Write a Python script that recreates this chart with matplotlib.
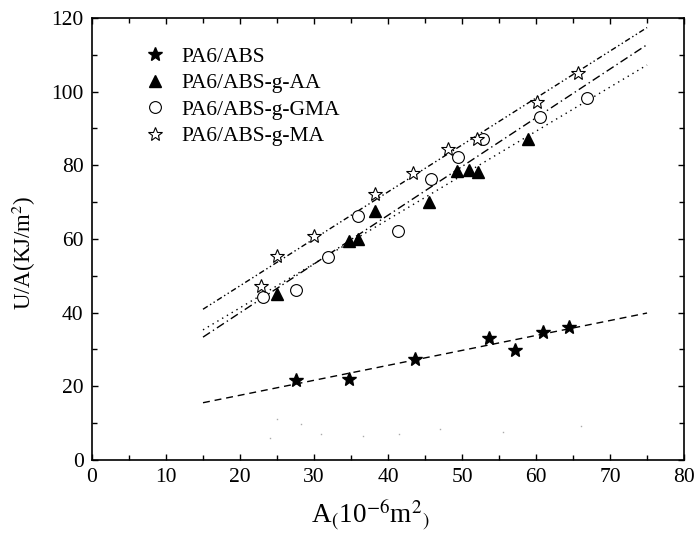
import numpy as np
import matplotlib.pyplot as plt
from matplotlib.ticker import MultipleLocator

plt.rcParams['font.family'] = ['Liberation Serif', 'DejaVu Serif']
plt.rcParams['mathtext.fontset'] = 'stix'

# PA6/ABS (filled stars, dashed fit)
x_abs = [27.5, 34.7, 43.7, 53.7, 57.1, 61.0, 64.5]
y_abs = [21.6, 22.1, 27.4, 33.2, 29.9, 34.7, 36.2]

# PA6/ABS-g-AA (filled triangles, dotted fit)
x_aa = [25.0, 34.7, 36.0, 38.3, 45.6, 49.3, 51.0, 52.1, 58.9]
y_aa = [45.1, 59.4, 60.1, 67.6, 70.0, 78.5, 78.6, 78.1, 87.2]

# PA6/ABS-g-GMA (open circles, dash-dot fit)
x_gma = [23.1, 27.5, 31.9, 36.0, 41.3, 45.8, 49.4, 52.8, 60.5, 66.9]
y_gma = [44.3, 46.2, 55.0, 66.3, 62.3, 76.2, 82.2, 87.2, 93.0, 98.3]

# PA6/ABS-g-MA (open stars, dash-dot-dot fit)
x_ma = [22.9, 25.0, 30.0, 38.3, 43.4, 48.1, 52.0, 60.1, 65.7]
y_ma = [47.2, 55.3, 60.9, 72.3, 77.8, 84.4, 87.2, 97.3, 105.2]

# faint specks near the bottom of the scan
x_specks = [25.0, 28.3, 24.1, 30.9, 36.6, 41.5, 47.0, 55.5, 66.1]
y_specks = [11.2, 9.9, 6.1, 7.0, 6.5, 7.0, 8.3, 7.7, 9.1]

fit_range = [15, 75]

fig = plt.figure(figsize=(6.98, 5.37), dpi=100)
ax = fig.add_axes([0.1318, 0.1434, 0.8482, 0.8231])

def fit_line(x, y, ls):
    z = np.polyfit(x, y, 1)
    p = np.poly1d(z)
    xx = np.array(fit_range)
    ax.plot(xx, p(xx), color='black', lw=1.0, linestyle=ls)

fit_line(x_abs, y_abs, (0, (5, 3.5)))
fit_line(x_aa, y_aa, (0, (1, 3)))
fit_line(x_gma, y_gma, (0, (6, 2.5, 1, 2.5)))
fit_line(x_ma, y_ma, (0, (4, 2, 1, 2, 1, 2)))

ax.plot(x_specks, y_specks, 's', ms=1.0, color='#aaaaaa', mec='none')

ax.plot(x_abs, y_abs, '*', ms=10, color='black', mec='black', lw=0,
        label='PA6/ABS')
ax.plot(x_aa, y_aa, '^', ms=8.5, color='black', mec='black', lw=0,
        label='PA6/ABS-g-AA')
ax.plot(x_gma, y_gma, 'o', ms=8.5, mfc='white', mec='black', mew=0.8, lw=0,
        label='PA6/ABS-g-GMA')
ax.plot(x_ma, y_ma, '*', ms=10.5, mfc='white', mec='black', mew=0.8, lw=0,
        label='PA6/ABS-g-MA')

ax.set_xlim(0, 80)
ax.set_ylim(0, 120)
ax.xaxis.set_major_locator(MultipleLocator(10))
ax.xaxis.set_minor_locator(MultipleLocator(5))
ax.yaxis.set_major_locator(MultipleLocator(20))
ax.yaxis.set_minor_locator(MultipleLocator(10))
ax.tick_params(which='both', direction='in', top=True, right=True,
               labeltop=False, labelright=False, width=1.0)
ax.tick_params(which='major', length=4.5, labelsize=15.5, pad=6)
ax.tick_params(which='minor', length=3.5)
for s in ax.spines.values():
    s.set_linewidth(1.2)

ax.set_xlabel(r'A$_{(}$10$^{\mathrm{-6}}$m$^{\mathrm{2}}$$_{)}$', fontsize=19.5)
ax.xaxis.set_label_coords(0.471, -0.085)
ax.set_ylabel(r'U/A(KJ/m$^{\mathrm{2}}$)', fontsize=16.5)
ax.yaxis.set_label_coords(-0.092, 0.468)

ax.legend(loc='upper left', bbox_to_anchor=(0.07, 0.955), frameon=False,
          fontsize=15.5, handletextpad=0.65, labelspacing=0.3,
          handlelength=1.2, borderaxespad=0)

fig.savefig('out.png', dpi=100)
